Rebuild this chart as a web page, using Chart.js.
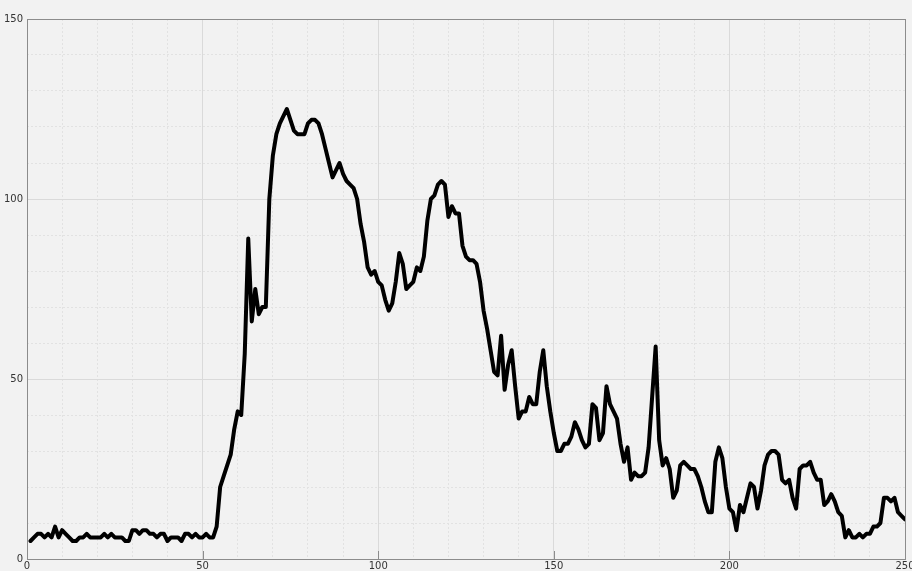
<!DOCTYPE html>
<html>
<head>
<meta charset="utf-8">
<script src="https://cdn.jsdelivr.net/npm/chart.js@4/dist/chart.umd.min.js"></script>
<style>
  html, body { margin: 0; padding: 0; background: #f2f2f2; }
  #wrap { width: 912px; height: 571px; }
</style>
</head>
<body>
<div id="wrap"><canvas id="graph" width="912" height="571"></canvas></div>
<script>
// x runs 1..250, one reading per step
let xStart = 1;
let readings = [
  5, 6, 7, 7, 6, 7, 6, 9, 6, 8, 7, 6, 5, 5, 6, 6, 7, 6, 6, 6,
  6, 7, 6, 7, 6, 6, 6, 5, 5, 8, 8, 7, 8, 8, 7, 7, 6, 7, 7, 5,
  6, 6, 6, 5, 7, 7, 6, 7, 6, 6, 7, 6, 6, 9, 20, 23, 26, 29, 36, 41,
  40, 57, 89, 66, 75, 68, 70, 70, 100, 112, 118, 121, 123, 125, 122, 119, 118, 118, 118, 121,
  122, 122, 121, 118, 114, 110, 106, 108, 110, 107, 105, 104, 103, 100, 93, 88, 81, 79, 80, 77,
  76, 72, 69, 71, 77, 85, 82, 75, 76, 77, 81, 80, 84, 94, 100, 101, 104, 105, 104, 95,
  98, 96, 96, 87, 84, 83, 83, 82, 77, 69, 64, 58, 52, 51, 62, 47, 54, 58, 48, 39,
  41, 41, 45, 43, 43, 52, 58, 48, 41, 35, 30, 30, 32, 32, 34, 38, 36, 33, 31, 32,
  43, 42, 33, 35, 48, 43, 41, 39, 32, 27, 31, 22, 24, 23, 23, 24, 31, 45, 59, 33,
  26, 28, 25, 17, 19, 26, 27, 26, 25, 25, 23, 20, 16, 13, 13, 27, 31, 28, 20, 14,
  13, 8, 15, 13, 17, 21, 20, 14, 19, 26, 29, 30, 30, 29, 22, 21, 22, 17, 14, 25,
  26, 26, 27, 24, 22, 22, 15, 16, 18, 16, 13, 12, 6, 8, 6, 6, 7, 6, 7, 7,
  9, 9, 10, 17, 17, 16, 17, 13, 12, 11
];
let xTicks = [0, 50, 100, 150, 200, 250];
let yTicks = [0, 50, 100, 150];

let points = readings.map((v, i) => ({ x: xStart + i, y: v }));

let bgPlugin = {
  id: "bg",
  beforeDraw(chart) {
    let ctx = chart.ctx;
    ctx.save();
    ctx.fillStyle = "#f2f2f2";
    ctx.fillRect(0, 0, chart.width, chart.height);
    ctx.restore();
  },
  afterDatasetsDraw(chart) {
    // short tick marks inside the plot, plus the frame
    let ctx = chart.ctx;
    let a = chart.chartArea;
    let xs = chart.scales.x;
    ctx.save();
    ctx.strokeStyle = "#8c8c8c";
    ctx.lineWidth = 1;
    xTicks.slice(1, -1).forEach(t => {
      let px = Math.round(xs.getPixelForValue(t)) + 0.5;
      ctx.beginPath();
      ctx.moveTo(px, a.bottom);
      ctx.lineTo(px, a.bottom - 8);
      ctx.stroke();
    });
    ctx.strokeRect(Math.round(a.left) + 0.5, Math.round(a.top) + 0.5,
      Math.round(a.right - a.left), Math.round(a.bottom - a.top));
    ctx.restore();
  }
};

let isMajor = (v) => v % 50 === 0;

let graph = document.getElementById("graph").getContext("2d");
let chart = new Chart(graph, {
  type: "line",
  data: {
    datasets: [
      {
        data: points,
        borderColor: "#000000",
        borderWidth: 4,
        pointRadius: 0,
        tension: 0,
        borderJoinStyle: "round",
        borderCapStyle: "round",
      },
    ],
  },
  options: {
    animation: false,
    responsive: false,
    layout: { padding: { top: 19, right: 7, left: 0, bottom: 0 } },
    plugins: {
      legend: { display: false },
      tooltip: { enabled: false },
    },
    scales: {
      x: {
        type: "linear",
        min: 0,
        max: 250,
        afterBuildTicks(scale) {
          let t = [];
          for (let v = 0; v <= 250; v += 10) t.push({ value: v });
          scale.ticks = t;
        },
        afterFit(scale) {
          scale.height = 12;
          scale.paddingLeft = 0;
          scale.paddingRight = 0;
        },
        ticks: {
          autoSkip: false,
          maxRotation: 0,
          padding: 1,
          color: "#333333",
          font: { family: "DejaVu Sans", size: 10 },
          callback: (v) => (xTicks.includes(v) ? String(v) : ""),
        },
        grid: {
          drawTicks: false,
          color: (c) => (c.tick && isMajor(c.tick.value) ? "#dadada" : "#e2e2e2"),
          lineWidth: 1,
        },
        border: {
          display: false,
          dash: (c) => (c.tick && isMajor(c.tick.value) ? [] : [2, 2]),
        },
      },
      y: {
        type: "linear",
        min: 0,
        max: 150,
        afterBuildTicks(scale) {
          let t = [];
          for (let v = 0; v <= 150; v += 10) t.push({ value: v });
          scale.ticks = t;
        },
        afterFit(scale) {
          scale.width = 27;
          scale.paddingTop = 0;
          scale.paddingBottom = 0;
        },
        ticks: {
          autoSkip: false,
          padding: 4,
          color: "#333333",
          font: { family: "DejaVu Sans", size: 10 },
          callback: (v) => (yTicks.includes(v) ? String(v) : ""),
        },
        grid: {
          drawTicks: false,
          color: (c) => (c.tick && isMajor(c.tick.value) ? "#dadada" : "#e2e2e2"),
          lineWidth: 1,
        },
        border: {
          display: false,
          dash: (c) => (c.tick && isMajor(c.tick.value) ? [] : [2, 2]),
        },
      },
    },
  },
  plugins: [bgPlugin],
});
</script>
</body>
</html>
